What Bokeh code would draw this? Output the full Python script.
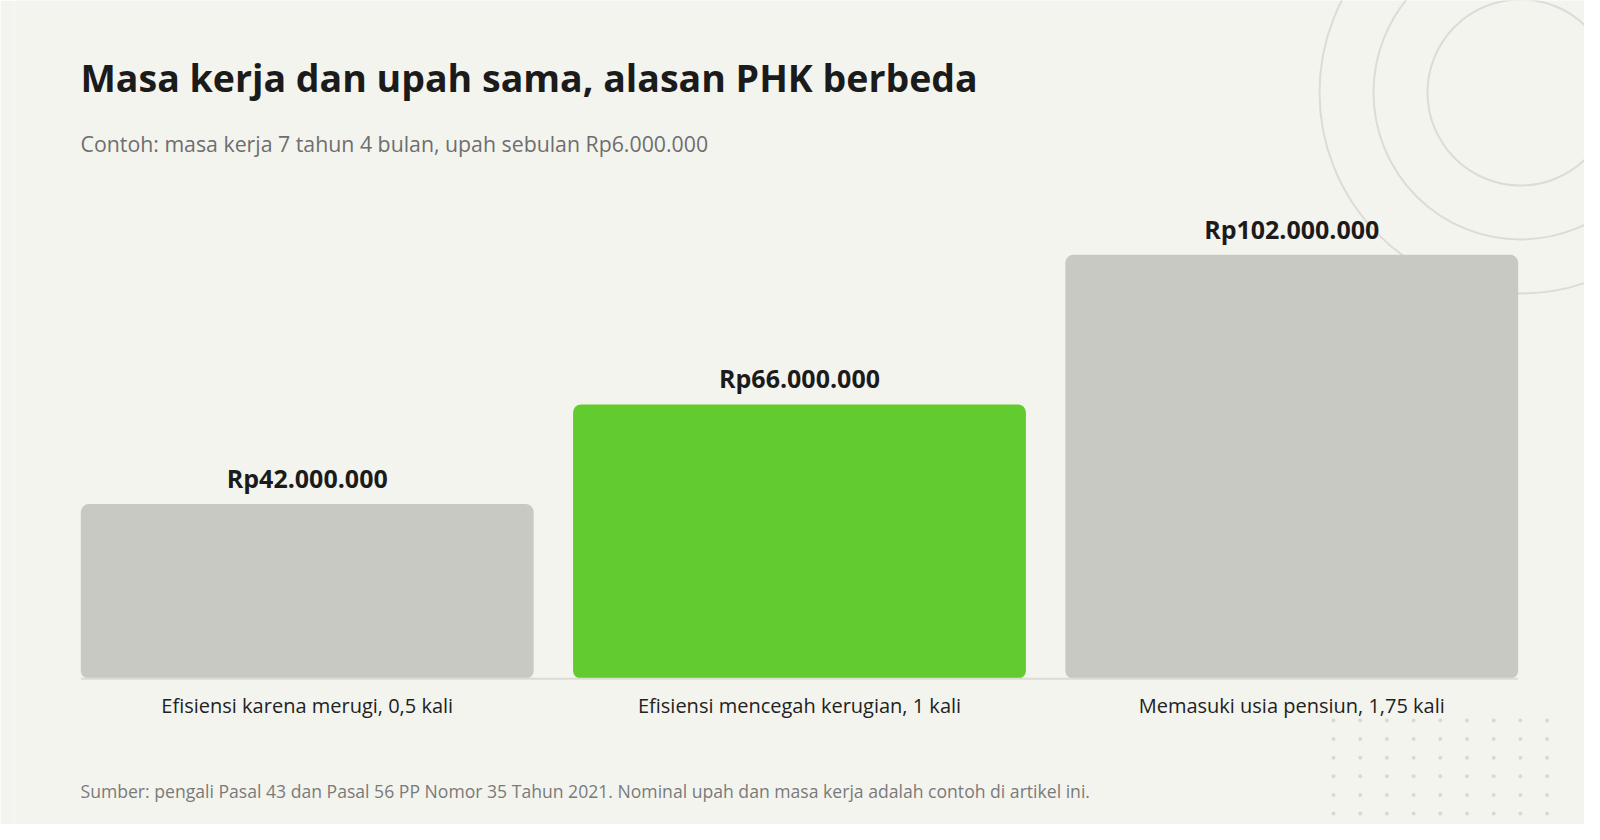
from bokeh.core.properties import value
from bokeh.embed import file_html
from bokeh.models import FactorRange, Range1d
from bokeh.plotting import figure
from bokeh.resources import INLINE

# data
categories = ["Efisiensi karena merugi, 0,5 kali",
              "Efisiensi mencegah kerugian, 1 kali",
              "Memasuki usia pensiun, 1,75 kali"]
amounts = [42_000_000, 66_000_000, 102_000_000]
amount_labels = ["Rp42.000.000", "Rp66.000.000", "Rp102.000.000"]
highlight = [False, True, False]

title = "Masa kerja dan upah sama, alasan PHK berbeda"
subtitle = "Contoh: masa kerja 7 tahun 4 bulan, upah sebulan Rp6.000.000"
source_note = ("Sumber: pengali Pasal 43 dan Pasal 56 PP Nomor 35 Tahun 2021. "
               "Nominal upah dan masa kerja adalah contoh di artikel ini.")

W, H = 1584, 824
BG = "#f4f4ef"
FONT = "Open Sans"
BAR_W = 0.92
LEFT = 14                      # frame starts here so the bars sit centred in it
PX_PER_UNIT = 492.25
PAD = ((W - LEFT) / PX_PER_UNIT - len(categories)) / 2


def sx(px):
    # canvas pixel -> synthetic coordinate of the factor range
    return (px - LEFT) / PX_PER_UNIT - PAD


p = figure(width=W, height=H, output_backend="svg", toolbar_location=None,
           x_range=FactorRange(*categories, range_padding=PAD,
                               range_padding_units="absolute"),
           y_range=Range1d(-35.1e6, 163.2e6),
           x_axis_location=None, y_axis_location=None,
           min_border=0, min_border_left=LEFT,
           background_fill_color=BG, border_fill_color=BG,
           outline_line_color=None)
p.grid.visible = False

# pixel-like vertical range for the decoration and the header/footer texts
p.extra_y_ranges = {"px": Range1d(H, 0)}

# rings in the top right corner
ring_d = [186, 294, 402]
p.scatter(x=[sx(1520)] * 3, y=[92] * 3, size=ring_d, marker="circle",
          y_range_name="px", fill_color=None, line_color="#dcdcd7", line_width=2)

# dotted grid in the bottom right corner
dx = [sx(1333 + 26.7 * i) for i in range(9) for j in range(6)]
dy = [720 + 18.6 * j for i in range(9) for j in range(6)]
p.scatter(dx, dy, size=4, marker="circle", y_range_name="px",
          fill_color="#d9d9d4", line_color=None)

# bars
colors = ["#62cb2f" if h else "#c9c9c4" for h in highlight]
p.vbar(x=categories, top=amounts, bottom=0, width=BAR_W, fill_color=colors,
       line_color=None, border_radius=8)

# baseline
p.line(x=[0.5 - BAR_W / 2, len(categories) - 0.5 + BAR_W / 2], y=[0, 0],
       line_color="#dcdcd7", line_width=2)

# value labels
p.text(x=categories, y=amounts, text=amount_labels, y_offset=-26,
       text_align="center", text_baseline="alphabetic",
       text_font=value(FONT), text_font_style="bold", text_font_size="25px",
       text_color="#1b1b1b")

# category labels
p.text(x=categories, y=[0] * 3, text=categories, y_offset=27,
       text_align="center", text_baseline="alphabetic",
       text_font=value(FONT), text_font_size="20px", text_color="#222222")

# header and footer
p.text(x=[sx(80)], y=[77], text=[title], y_range_name="px",
       text_baseline="alphabetic", text_font=value(FONT), text_font_style="bold",
       text_font_size="37.5px", text_color="#1b1b1b")
p.text(x=[sx(80)], y=[143], text=[subtitle], y_range_name="px",
       text_baseline="alphabetic", text_font=value(FONT), text_font_size="21.3px",
       text_color="#6e6e6e")
p.text(x=[sx(80)], y=[790], text=[source_note], y_range_name="px",
       text_baseline="alphabetic", text_font=value(FONT), text_font_size="17.6px",
       text_color="#7a7a7a")

open("out.html", "w").write(file_html(p, INLINE))
